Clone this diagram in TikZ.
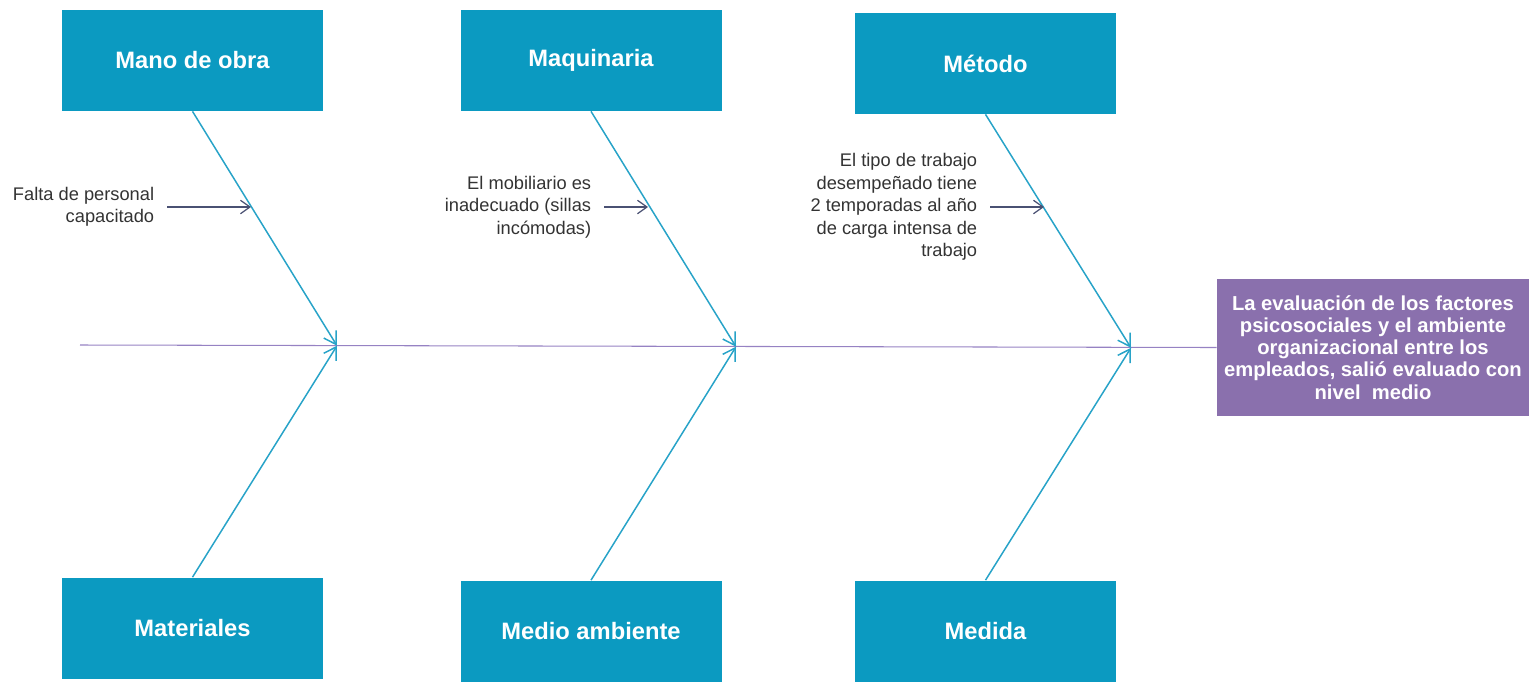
\documentclass[tikz,border=0pt]{standalone}
\usepackage{fontspec}
\setmainfont{Liberation Sans}
\usetikzlibrary{arrows.meta,positioning,calc}
\definecolor{ink}{RGB}{51,51,51}
\definecolor{causeC}{RGB}{11,154,193}
\definecolor{boneC}{RGB}{40,163,200}
\definecolor{effectC}{RGB}{138,112,173}
\definecolor{spineC}{RGB}{150,130,195}
\definecolor{subC}{RGB}{74,81,115}
\tikzset{
  cause/.style={fill=causeC,text=white,inner sep=0pt,minimum width=52.2mm,
    minimum height=20.2mm,font=\fontsize{13.5}{16}\selectfont\bfseries},
  effect/.style={fill=effectC,text=white,inner sep=0pt,minimum width=62.4mm,
    minimum height=27.4mm,align=center,
    font=\fontsize{11.5}{12.6}\selectfont\bfseries},
  note/.style={text=ink,align=right,inner xsep=2.5mm,inner ysep=0pt,
    font=\fontsize{10.4}{12.8}\selectfont},
  bonearr/.style={-{Straight Barb[length=2.4mm,width=2.9mm]},boneC,line width=0.85pt},
  subarr/.style={-{Straight Barb[length=1.9mm,width=2.7mm]},subC,line width=0.7pt},
}

\begin{document}
\begin{tikzpicture}[x=0.2mm,y=-0.2mm]
  \useasboundingbox (0,0) rectangle (1536,686);
  % causes
  \node[cause] (mo) at (192.5,60.5) {Mano de obra};
  \node[cause] (mq) at (591,60.5) {Maquinaria};
  \node[cause] (me) at (985.5,63.5) {Método};
  \node[cause] (mt) at (192.5,628) {Materiales};
  \node[cause] (ma) at (591,631) {Medio ambiente};
  \node[cause] (md) at (985.5,631) {Medida};
  % effect
  \node[effect] (ef) at (1373,347.5) {La evaluación de los factores\\psicosociales y el ambiente\\organizacional entre los\\empleados, salió evaluado con\\nivel\ \ medio};
  % spine
  \coordinate (s0) at (80,345);
  \coordinate (j1) at (337,345.7);
  \coordinate (j2) at (736,346.7);
  \coordinate (j3) at (1131,347.8);
  \draw[spineC,line width=0.6pt] (s0) -- (ef.west);
  % bones
  \draw[bonearr] (mo.south) -- (j1);
  \draw[bonearr] (mt.north) -- (j1);
  \draw[bonearr] (mq.south) -- (j2);
  \draw[bonearr] (ma.north) -- (j2);
  \draw[bonearr] (me.south) -- (j3);
  \draw[bonearr] (md.north) -- (j3);
  % sub-causes
  \node[note,anchor=east] (n1) at (167,207) {Falta de personal\\capacitado};
  \node[note,anchor=east] (n2) at (604,207) {El mobiliario es\\inadecuado (sillas\\incómodas)};
  \node[note,anchor=east] (n3) at (990,207) {El tipo de trabajo\\desempeñado tiene\\2 temporadas al año\\de carga intensa de\\trabajo};
  \coordinate (p1) at (251,207);
  \coordinate (p2) at (648,207);
  \coordinate (p3) at (1044,207);
  \draw[subarr] (n1.east) -- (p1);
  \draw[subarr] (n2.east) -- (p2);
  \draw[subarr] (n3.east) -- (p3);
\end{tikzpicture}
\end{document}
